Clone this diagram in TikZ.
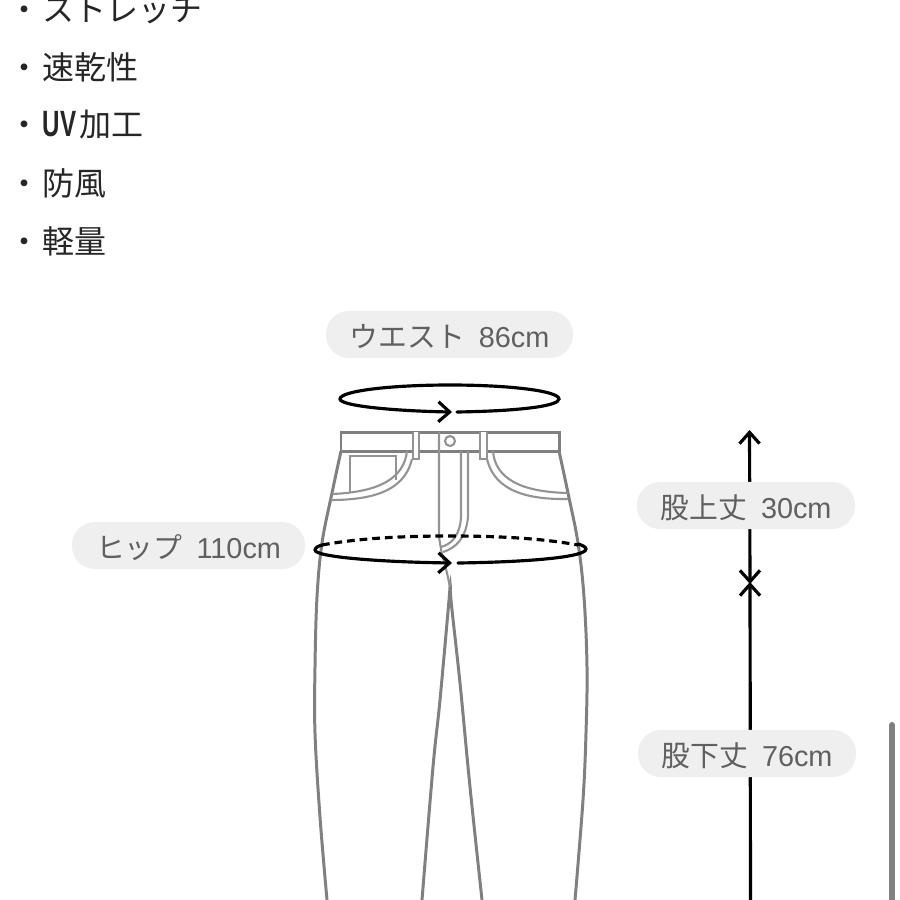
\documentclass[tikz,border=0pt]{standalone}
\usepackage{xcolor}
\usepackage{fontspec}
\setmainfont{Liberation Sans}
\newfontfamily\jpfont{Noto Sans CJK JP}
\usetikzlibrary{arrows.meta}
\definecolor{pantgray}{HTML}{808080}
\definecolor{pillgray}{HTML}{EFEFEF}
\definecolor{pilltext}{HTML}{606060}
\newcommand{\sizetext}[2]{{\jpfont #1}\hspace{.14cm}#2}
\tikzset{>={Straight Barb[length=3.2pt,width=5.7pt,line width=.9pt]}}
\tikzset{item node/.style={anchor=west,inner sep=0pt,font=\fontsize{9.1pt}{11pt}\selectfont\jpfont,text=black!85},
         size node/.style={fill=pillgray,rounded corners=.23cm,inner sep=0pt,minimum height=.47cm,text=pilltext,text height=.25cm,text depth=0pt,font=\fontsize{8.2pt}{10pt}\selectfont},
         pant/.style={draw=pantgray,line width=.85pt},
         detail/.style={draw=pantgray!85,line width=.6pt},
         ring/.style={draw=black,line width=.9pt,line cap=round},
         ruler/.style={draw=black,line width=.9pt},
            }

\begin{document}
\begin{tikzpicture}[x=.01cm,y=-.01cm]
    \useasboundingbox (0,0) rectangle (900,900);

    \node[item node] (i1) at (8,10) {・\hspace{.02cm}ストレッチ};
    \node[item node] (i2) at (8,67) {・\hspace{.02cm}速乾性};
    \node[item node] (i3) at (8,125) {・\hspace{.02cm}{\rmfamily\bfseries\scalebox{.66}[1]{\fontsize{10.4pt}{11pt}\selectfont UV}}\hspace{.03cm}加工};
    \node[item node] (i4) at (8,183) {・\hspace{.02cm}防風};
    \node[item node] (i5) at (8,241) {・\hspace{.02cm}軽量};

    % trousers
    \draw[pant] (341,432) rectangle (559,451);
    \draw[pant] plot[smooth,tension=.6] coordinates {(341,451) (332,493) (322,543) (317,597) (315,667) (315,733) (320,817) (327,900)};
    \draw[pant] plot[smooth,tension=.6] coordinates {(559,451) (568,493) (578,543) (584,597) (587,667) (586,733) (583,800) (575,900)};
    \draw[pant] plot[smooth,tension=.6] coordinates {(450,585) (449,600) (440,700) (433,767) (422,900)};
    \draw[pant] plot[smooth,tension=.6] coordinates {(451,585) (451,600) (460,683) (470,787) (482,900)};
    \draw[detail,fill=white] (413,432) -- (413,459) -- (419,459) -- (419,432);
    \draw[detail,fill=white] (480,432) -- (480,459) -- (487,459) -- (487,432);
    \draw[detail] (439,432) -- (439,537) -- (441.5,552) -- (447,573) -- (450,587);
    \draw[detail] (450,441) circle (5);
    \draw[detail] (461,451) -- (461,517) .. controls (460,535) and (452,544) .. (441,547);
    \draw[detail] (468,451) -- (468,517) .. controls (466,538) and (456,548) .. (443,552);
    % pockets
    \draw[detail] (407,451) .. controls (404,478) and (380,492) .. (332,494);
    \draw[detail] (412,459) .. controls (406,484) and (385,500) .. (331,500);
    \draw[detail] (350,493) -- (350,456) -- (396,456) -- (396,480);
    \draw[detail] (493,451) .. controls (495,478) and (520,492) .. (568,493);
    \draw[detail] (487,459) .. controls (493,484) and (515,500) .. (568,499);

    % waist and hip rings
    \draw[ring,->] (457,412) .. controls (520,411) and (559,406) .. (559,399) .. controls (559,391) and (510,385) .. (450,385) .. controls (390,385) and (340,391) .. (340,399) .. controls (340,406) and (395,411) .. (452,412);
    \draw[ring,line cap=butt,dash pattern=on 2.2pt off 1.4pt] (322,545) .. controls (360,538) and (405,536) .. (450,536) .. controls (495,536) and (540,538) .. (578,545);
    \draw[ring] (458,563) .. controls (530,562) and (586,557) .. (586,549) .. controls (586,547) and (582,545) .. (578,544);
    \draw[ring,->] (322,545) .. controls (318,546) and (315,548) .. (315,550) .. controls (315,557) and (380,562) .. (452,563);

    % length rulers
    \coordinate (top) at (749.5,430);
    \coordinate (crossup) at (750,584);
    \coordinate (crosslow) at (750,582);
    \coordinate (bottom) at (750.5,900);
    \draw[ruler,<->] (top) -- (crossup);
    \draw[ruler,->] (bottom) -- (crosslow);

    \node[size node,minimum width=2.47cm] (waist) at (449.5,334.5) {\sizetext{ウエスト}{86cm}};
    \node[size node,minimum width=2.33cm] (hip) at (188.5,545.5) {\sizetext{ヒップ}{110cm}};
    \node[size node,minimum width=2.18cm] (rise) at (746,505.5) {\sizetext{股上丈}{30cm}};
    \node[size node,minimum width=2.18cm] (inseam) at (747,753.5) {\sizetext{股下丈}{76cm}};

    % scroll bar
    \draw[draw=pantgray,line width=1.7pt,line cap=round] (892,725) -- (892,903);

\end{tikzpicture}
\end{document}
